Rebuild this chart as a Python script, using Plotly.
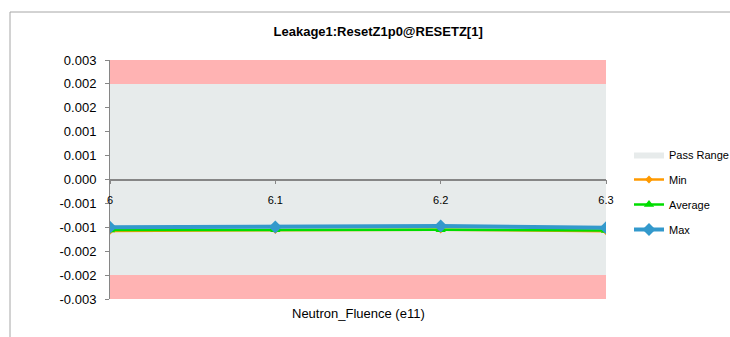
import plotly.graph_objects as go

# Neutron fluence steps (e11) and measured leakage per step
fluence = [6.0, 6.1, 6.2, 6.3]
leak_min = [-0.00129, -0.00127, -0.00126, -0.00130]
leak_avg = [-0.00127, -0.00126, -0.00126, -0.00128]
leak_max = [-0.00120, -0.00119, -0.00117, -0.00121]

# Spec limits and axis extent
pass_lo = -0.0024
pass_hi = 0.0024
axis_lo = -0.003
axis_hi = 0.003

# Y tick positions and their printed labels (3 decimals)
y_tickvals = [0.003, 0.0024, 0.0018, 0.0012, 0.0006, 0.0,
              -0.0006, -0.0012, -0.0018, -0.0024, -0.003]
y_ticktext = ["0.003", "0.002", "0.002", "0.001", "0.001", "0.000",
              "-0.001", "-0.001", "-0.002", "-0.002", "-0.003"]

FONT = "Liberation Sans, Arial, sans-serif"

x0, x1 = fluence[0], fluence[-1]
band_x = [x0, x1, x1, x0, x0]


def band_y(lo, hi):
    return [lo, lo, hi, hi, lo]


fig = go.Figure()

# Pass range (grey) and fail regions (red)
fig.add_trace(go.Scatter(
    x=band_x, y=band_y(pass_lo, pass_hi), mode="lines", fill="toself",
    fillcolor="#E7EBEB", line=dict(width=0, color="#E7EBEB"),
    name="Pass Range", legendgroup="pass", hoverinfo="skip"))
fig.add_trace(go.Scatter(
    x=band_x, y=band_y(pass_hi, axis_hi), mode="lines", fill="toself",
    fillcolor="#FFB3B3", line=dict(width=0, color="#FFB3B3"),
    showlegend=False, hoverinfo="skip"))
fig.add_trace(go.Scatter(
    x=band_x, y=band_y(axis_lo, pass_lo), mode="lines", fill="toself",
    fillcolor="#FFB3B3", line=dict(width=0, color="#FFB3B3"),
    showlegend=False, hoverinfo="skip"))

# Measurement series
fig.add_trace(go.Scatter(
    x=fluence, y=leak_min, name="Min", legendgroup="min",
    mode="lines+markers",
    line=dict(color="#FF9A00", width=2.5),
    marker=dict(symbol="diamond", size=6, color="#FF9A00")))
fig.add_trace(go.Scatter(
    x=fluence, y=leak_avg, name="Average", legendgroup="avg",
    mode="lines+markers",
    line=dict(color="#00DD00", width=2.5),
    marker=dict(symbol="triangle-up", size=9, color="#00DD00")))
fig.add_trace(go.Scatter(
    x=fluence, y=leak_max, name="Max", legendgroup="max",
    mode="lines+markers",
    line=dict(color="#3399CC", width=4),
    marker=dict(symbol="diamond", size=10, color="#3399CC")))

fig.update_layout(
    width=730, height=337,
    margin=dict(l=110, r=124, t=60, b=38, autoexpand=False),
    paper_bgcolor="white", plot_bgcolor="white",
    font=dict(family=FONT, color="#000000"),
    title=dict(text="<b>Leakage1:ResetZ1p0@RESETZ[1]</b>",
               font=dict(size=13, family=FONT, color="#000000"),
               x=0.518, xref="container", xanchor="center",
               y=1 - 31 / 337, yref="container", yanchor="middle"),
    xaxis=dict(
        range=[x0, x1], tickvals=fluence,
        ticktext=["6", "6.1", "6.2", "6.3"],
        anchor="free", position=0.5,
        showgrid=False, zeroline=False,
        showline=True, linecolor="#868686", linewidth=1.5,
        ticks="outside", ticklen=4, tickcolor="#868686",
        ticklabelstandoff=7,
        tickfont=dict(size=11, family=FONT, color="#000000")),
    yaxis=dict(
        range=[axis_lo, axis_hi], tickvals=y_tickvals, ticktext=y_ticktext,
        showgrid=False, zeroline=False,
        showline=True, linecolor="#868686", linewidth=1,
        ticks="outside", ticklen=4, tickcolor="#868686",
        ticklabelstandoff=6,
        tickfont=dict(size=13, family=FONT, color="#000000")),
    legend=dict(
        xref="container", x=629 / 730, xanchor="left",
        yref="container", y=1 - 140 / 337, yanchor="top",
        traceorder="grouped", tracegroupgap=6,
        font=dict(size=11, family=FONT, color="#000000"),
        bgcolor="rgba(0,0,0,0)", itemwidth=30),
    annotations=[dict(
        text="Neutron_Fluence (e11)", xref="paper", yref="paper",
        x=(358 - 110) / 496, y=(299 - 313) / 239,
        xanchor="center", yanchor="middle", showarrow=False,
        font=dict(size=13, family=FONT, color="#000000"))],
    shapes=[dict(
        type="rect", xref="paper", yref="paper",
        x0=(10 - 110) / 496, x1=(760 - 110) / 496,
        y0=(299 - 360) / 239, y1=(299 - 12) / 239,
        line=dict(color="#A6A6A6", width=1), fillcolor="rgba(0,0,0,0)",
        layer="below")],
)

fig.write_html("out.html")
